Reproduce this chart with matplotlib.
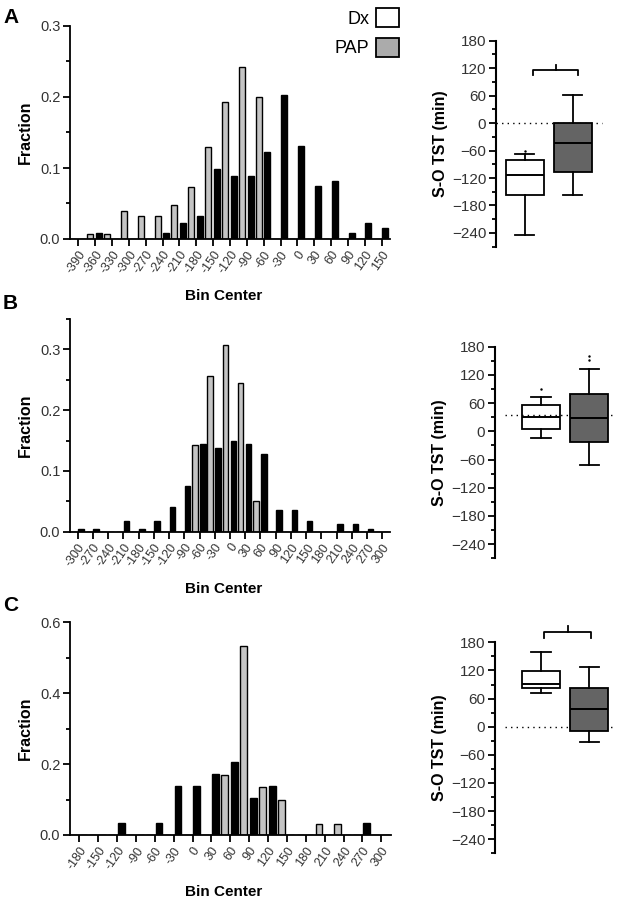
import matplotlib
matplotlib.use("Agg")
import matplotlib.pyplot as plt
from matplotlib.patches import Patch

plt.rcParams['font.family'] = ['Liberation Sans', 'DejaVu Sans']

# ---- histogram data (fraction per bin) ----
a_bins = [-390, -360, -330, -300, -270, -240, -210, -180, -150, -120,
          -90, -60, -30, 0, 30, 60, 90, 120, 150]
a_dx = [0, 0.007, 0.007, 0.040, 0.032, 0.032, 0.048, 0.073, 0.130, 0.193,
        0.242, 0.200, 0, 0, 0, 0, 0, 0, 0]
a_pap = [0, 0.008, 0, 0, 0, 0.008, 0.023, 0.033, 0.099, 0.089,
         0.089, 0.122, 0.203, 0.131, 0.074, 0.081, 0.008, 0.023, 0.016]

b_bins = [-300, -270, -240, -210, -180, -150, -120, -90, -60, -30, 0,
          30, 60, 90, 120, 150, 180, 210, 240, 270, 300]
b_dx = [0, 0, 0, 0, 0, 0, 0, 0, 0.142, 0.256, 0.307,
        0.245, 0.051, 0, 0, 0, 0, 0, 0, 0, 0]
b_pap = [0.005, 0.005, 0, 0.018, 0.005, 0.018, 0.040, 0.075, 0.145, 0.138, 0.149,
         0.145, 0.127, 0.035, 0.035, 0.018, 0, 0.012, 0.012, 0.005, 0]

c_bins = [-180, -150, -120, -90, -60, -30, 0, 30, 60, 90, 120,
          150, 180, 210, 240, 270, 300]
c_dx = [0, 0, 0, 0, 0, 0, 0, 0, 0.168, 0.534, 0.134,
        0.100, 0, 0.031, 0.031, 0, 0]
c_pap = [0, 0, 0.034, 0, 0.034, 0.137, 0.137, 0.172, 0.207, 0.104, 0.137,
         0, 0, 0, 0, 0.034, 0]

# ---- box plot data: S-O TST (min) ----
box_a = [dict(whislo=-245, q1=-157, med=-113, q3=-80, whishi=-68, fliers=[-61]),
         dict(whislo=-156, q1=-106, med=-43, q3=0, whishi=61, fliers=[])]
box_b = [dict(whislo=-15, q1=5, med=31, q3=56, whishi=74, fliers=[90]),
         dict(whislo=-72, q1=-22, med=28, q3=79, whishi=132, fliers=[151, 160])]
box_c = [dict(whislo=72, q1=82, med=92, q3=119, whishi=160, fliers=[]),
         dict(whislo=-32, q1=-9, med=38, q3=82, whishi=127, fliers=[])]
ref_a, ref_b, ref_c = 0, 35, 0

W, H = 618, 901
fig = plt.figure(figsize=(W / 100, H / 100), dpi=100)


def px_rect(left, top, right, bottom):
    return [left / W, 1 - bottom / H, (right - left) / W, (bottom - top) / H]


def hist_panel(rect, bins, dx, pap, yticks, ymax):
    ax = fig.add_axes(px_rect(*rect))
    x = list(range(len(bins)))
    ax.bar([i - 0.3 for i in x], dx, width=0.36, color='#c4c4c4',
           edgecolor='black', linewidth=1.0)
    ax.bar([i + 0.22 for i in x], pap, width=0.36, color='black',
           edgecolor='black', linewidth=1.0)
    ax.set_xlim(-0.5, len(bins) - 0.5)
    ax.set_ylim(0, ymax)
    ax.set_xticks(x)
    ax.set_xticklabels([str(b) for b in bins], rotation=55, ha='right',
                       rotation_mode='anchor', fontsize=9, color='#333333')
    ax.set_yticks(yticks)
    ax.set_yticklabels(['%.1f' % t for t in yticks], fontsize=10.5, color='#333333')
    step = yticks[1] - yticks[0]
    ax.set_yticks([t + step / 2 for t in yticks if t + step / 2 <= ymax + 1e-9], minor=True)
    for s in ['top', 'right']:
        ax.spines[s].set_visible(False)
    for s in ['left', 'bottom']:
        ax.spines[s].set_linewidth(1.3)
    ax.tick_params(which='major', length=5, width=1.3, pad=2)
    ax.tick_params(which='minor', length=3, width=1.3)
    ax.set_ylabel('Fraction', fontsize=11.5, fontweight='bold')
    ax.set_xlabel('Bin Center', fontsize=11, fontweight='bold')
    ax.yaxis.set_label_coords(-0.115, 0.5)
    ax.xaxis.set_label_coords(0.48, -0.235)
    return ax


def box_panel(rect, stats, ylo, xlim, ref, ref_span):
    ax = fig.add_axes(px_rect(*rect))
    ax.axhline(ref, xmin=(ref_span[0] - xlim[0]) / (xlim[1] - xlim[0]),
               xmax=(ref_span[1] - xlim[0]) / (xlim[1] - xlim[0]),
               color='black', linestyle=(0, (1, 3)), linewidth=1.0, zorder=1)
    bp = ax.bxp(stats, positions=[1, 2], widths=0.8, capwidths=0.4,
                patch_artist=True, showfliers=True,
                medianprops=dict(color='black', linewidth=1.4),
                whiskerprops=dict(color='black', linewidth=1.3),
                capprops=dict(color='black', linewidth=1.3),
                flierprops=dict(marker='.', markersize=1.5, markerfacecolor='black',
                                markeredgecolor='black'))
    bp['boxes'][0].set(facecolor='none', edgecolor='black', linewidth=1.3)
    bp['boxes'][1].set(facecolor='#646464', edgecolor='black', linewidth=1.3, zorder=2)
    ax.set_xlim(*xlim)
    ax.set_ylim(ylo, 180)
    ax.set_yticks([-240, -180, -120, -60, 0, 60, 120, 180])
    ax.set_yticks([-270, -210, -150, -90, -30, 30, 90, 150], minor=True)
    ax.tick_params(axis='y', labelsize=11, labelcolor='#333333')
    ax.tick_params(which='major', length=5, width=1.3, pad=2)
    ax.tick_params(which='minor', length=3, width=1.3)
    ax.set_xticks([])
    for s in ['top', 'right', 'bottom']:
        ax.spines[s].set_visible(False)
    ax.spines['left'].set_linewidth(1.5)
    ax.set_ylabel('S-O TST (min)', fontsize=11.5, fontweight='bold')
    ax.yaxis.set_label_coords(-0.40, 0.5)
    return ax


def bracket(ax, x0, x1, y, drop, xm, rise):
    ax.plot([x0, x0, x1, x1], [y - drop, y, y, y - drop], color='black',
            linewidth=1.3, clip_on=False)
    ax.plot([xm, xm], [y, y + rise], color='black', linewidth=1.3, clip_on=False)


ax_a = hist_panel((70, 26, 390, 239), a_bins, a_dx, a_pap, [0.0, 0.1, 0.2, 0.3], 0.3)
ax_b = hist_panel((70, 318.9, 390, 531.7), b_bins, b_dx, b_pap, [0.0, 0.1, 0.2, 0.3], 0.35)
ax_c = hist_panel((70, 622.3, 390.7, 835), c_bins, c_dx, c_pap, [0.0, 0.2, 0.4, 0.6], 0.6)

bx_a = box_panel((496, 40.7, 616, 246.7), box_a, -260, (0.4, 2.9), ref_a, (0.4, 2.61))
bracket(bx_a, 1.17, 2.10, 116, 12, 1.64, 12)
bx_b = box_panel((495, 346.7, 616, 558.3), box_b, -270, (0.04, 2.56), ref_b, (0.25, 2.5))
bx_c = box_panel((495, 642.3, 616, 853.3), box_c, -270, (0.04, 2.56), ref_c, (0.25, 2.5))
bracket(bx_c, 1.07, 2.03, 203, 13, 1.55, 12)

# legend
handles = [Patch(facecolor='white', edgecolor='black', linewidth=1.3),
           Patch(facecolor='#ababab', edgecolor='black', linewidth=1.3)]
fig.legend(handles, ['Dx', 'PAP'], loc='upper right', markerfirst=False,
           frameon=False, fontsize=13, handlelength=1.25, handleheight=1.25,
           handletextpad=0.4, labelspacing=0.55, borderpad=0, borderaxespad=0,
           bbox_to_anchor=(399 / W, 1 - 8 / H))

for letter, y in [('A', 8), ('B', 294), ('C', 596)]:
    fig.text(3 / W, 1 - y / H, letter, fontsize=15, fontweight='bold', va='top', ha='left')

fig.savefig('out.png', dpi=100)
